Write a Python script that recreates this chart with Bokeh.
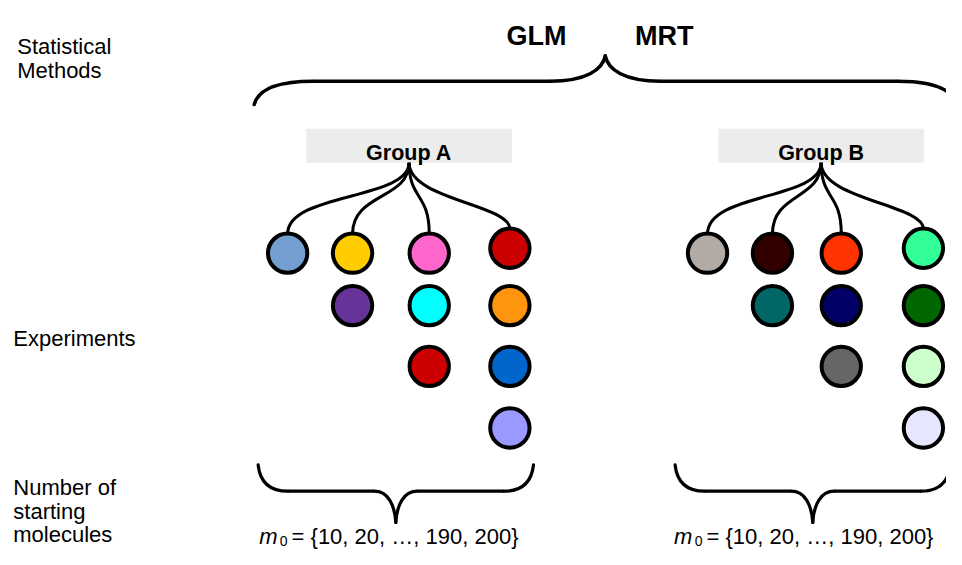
from bokeh.plotting import figure
from bokeh.models import Range1d, ColumnDataSource
from bokeh.embed import file_html
from bokeh.resources import INLINE
from bokeh.core.properties import value

# ---------------- data ----------------
methods = ["GLM", "MRT"]
groups = ["Group A", "Group B"]
group_a_colors = [
    ["#729fcf"],
    ["#ffcc00", "#663399"],
    ["#ff66cc", "#00ffff", "#cc0000"],
    ["#cc0000", "#ff950e", "#0066cc", "#9999ff"],
]
group_b_colors = [
    ["#b2aba5"],
    ["#330000", "#006666"],
    ["#ff3300", "#000066", "#666666"],
    ["#33ff99", "#006600", "#ccffcc", "#e6e6ff"],
]
experiment_colors = [group_a_colors, group_b_colors]
m0_symbol = "m"
m0_sub = "0"
m0_values = "= {10, 20, \u2026, 190, 200}"
row_labels = [["Statistical", "Methods"], ["Experiments"],
              ["Number of", "starting", "molecules"]]

# ---------------- layout (reference-pixel coordinates) ----------------
FONT = value("Liberation Sans")
W, H = 946, 549
REF_W, REF_H = 962, 565

method_x = [545, 675]
method_base = 37

group_box = [(311, 520), (730, 939)]
group_root = [415.5, 834.5]
box_top, box_bottom = 132, 167
group_label_base = 157
group_col_x = [[292, 358, 436, 518], [719, 785, 855, 938.5]]
row_y = [260, 314, 376.5, 440]
first_row_lift = [0, 0, 0, 5]
bend_y = [198, 198, 198, 210]
R = 20

top_brace = dict(cx=615, half_w=357, y_line=83, y_tip=57, y_end=107, cdx=60, tdx=56, lw=3.5)
bottom_brace_cx = [402, 826]
bottom_brace = dict(half_w=140, y_line=505, y_tip=537, y_end=478, cdx=30, tdx=22, lw=3.2)

label_x = [17, 13, 13]
label_base = [[47, 72], [348], [501, 525.5, 550]]

m0_x = [263, 685]
m0_base = 552

p = figure(width=W, height=H, x_range=Range1d(0, REF_W), y_range=Range1d(REF_H, 0),
           output_backend="svg", toolbar_location=None, min_border=0,
           x_axis_location=None, y_axis_location=None)
p.grid.grid_line_color = None
p.outline_line_color = None
p.background_fill_color = "white"
p.border_fill_color = "white"


def add_brace(cx, half_w, y_line, y_tip, y_end, cdx, tdx, lw):
    bz = dict(x0=[], y0=[], x1=[], y1=[], cx0=[], cy0=[], cx1=[], cy1=[])
    sx0, sy0, sx1, sy1 = [], [], [], []
    for s in (-1, 1):
        xe = cx + s * half_w
        # corner
        bz["x0"].append(xe); bz["y0"].append(y_end)
        bz["cx0"].append(xe - s * 0.07 * cdx); bz["cy0"].append(y_end + 0.7 * (y_line - y_end))
        bz["cx1"].append(xe - s * 0.45 * cdx); bz["cy1"].append(y_line)
        bz["x1"].append(xe - s * cdx); bz["y1"].append(y_line)
        # tip
        bz["x0"].append(cx + s * tdx); bz["y0"].append(y_line)
        bz["cx0"].append(cx + s * 0.35 * tdx); bz["cy0"].append(y_line)
        bz["cx1"].append(cx + s * 0.05 * tdx); bz["cy1"].append(y_line + 0.45 * (y_tip - y_line))
        bz["x1"].append(cx); bz["y1"].append(y_tip)
        sx0.append(xe - s * cdx); sy0.append(y_line)
        sx1.append(cx + s * tdx); sy1.append(y_line)
    p.bezier(source=ColumnDataSource(bz), x0="x0", y0="y0", x1="x1", y1="y1",
             cx0="cx0", cy0="cy0", cx1="cx1", cy1="cy1",
             line_color="black", line_width=lw, line_cap="round")
    p.segment(x0=sx0, y0=sy0, x1=sx1, y1=sy1, line_color="black", line_width=lw)


# method labels + top brace
p.text(x=method_x, y=[method_base] * len(methods), text=methods, text_font=FONT,
       text_font_size="27px", text_font_style="bold", text_align="center",
       text_baseline="alphabetic", text_color="black")
add_brace(**top_brace)

# groups
for g, name in enumerate(groups):
    l, r = group_box[g]
    p.quad(left=[l], right=[r], top=[box_top], bottom=[box_bottom],
           fill_color="#ececec", line_color=None)
    p.text(x=[(l + r) / 2], y=[group_label_base], text=[name], text_font=FONT,
           text_font_size="21.5px", text_font_style="bold", text_align="center",
           text_baseline="alphabetic", text_color="black")
    # connectors
    bz = dict(x0=[], y0=[], x1=[], y1=[], cx0=[], cy0=[], cx1=[], cy1=[])
    cx_list, cy_list, col_list = [], [], []
    for c, colors in enumerate(experiment_colors[g]):
        xc = group_col_x[g][c]
        top_y = row_y[0] - first_row_lift[c]
        bz["x0"].append(group_root[g]); bz["y0"].append(box_bottom)
        bz["cx0"].append(group_root[g]); bz["cy0"].append(205)
        bz["cx1"].append(xc); bz["cy1"].append(bend_y[c])
        bz["x1"].append(xc); bz["y1"].append(top_y - R)
        for k, col in enumerate(colors):
            cx_list.append(xc)
            cy_list.append(row_y[k] - (first_row_lift[c] if k == 0 else 0))
            col_list.append(col)
    p.bezier(source=ColumnDataSource(bz), x0="x0", y0="y0", x1="x1", y1="y1",
             cx0="cx0", cy0="cy0", cx1="cx1", cy1="cy1",
             line_color="black", line_width=3)
    p.circle(x=cx_list, y=cy_list, radius=R, fill_color=col_list,
             line_color="black", line_width=4)
    # bottom brace
    add_brace(cx=bottom_brace_cx[g], **bottom_brace)
    # m0 label
    mx = m0_x[g]
    p.text(x=[mx], y=[m0_base], text=[m0_symbol], text_font=FONT, text_font_size="22px",
           text_font_style="italic", text_baseline="alphabetic", text_color="black")
    p.text(x=[mx + 21], y=[m0_base + 4], text=[m0_sub], text_font=FONT, text_font_size="14px",
           text_baseline="alphabetic", text_color="black")
    p.text(x=[mx + 33], y=[m0_base], text=[m0_values], text_font=FONT, text_font_size="22px",
           text_baseline="alphabetic", text_color="black")

# row labels on the left
for i, lines in enumerate(row_labels):
    p.text(x=[label_x[i]] * len(lines), y=label_base[i], text=lines, text_font=FONT,
           text_font_size="22px", text_baseline="alphabetic", text_color="black")

open("out.html", "w").write(file_html(p, INLINE))
